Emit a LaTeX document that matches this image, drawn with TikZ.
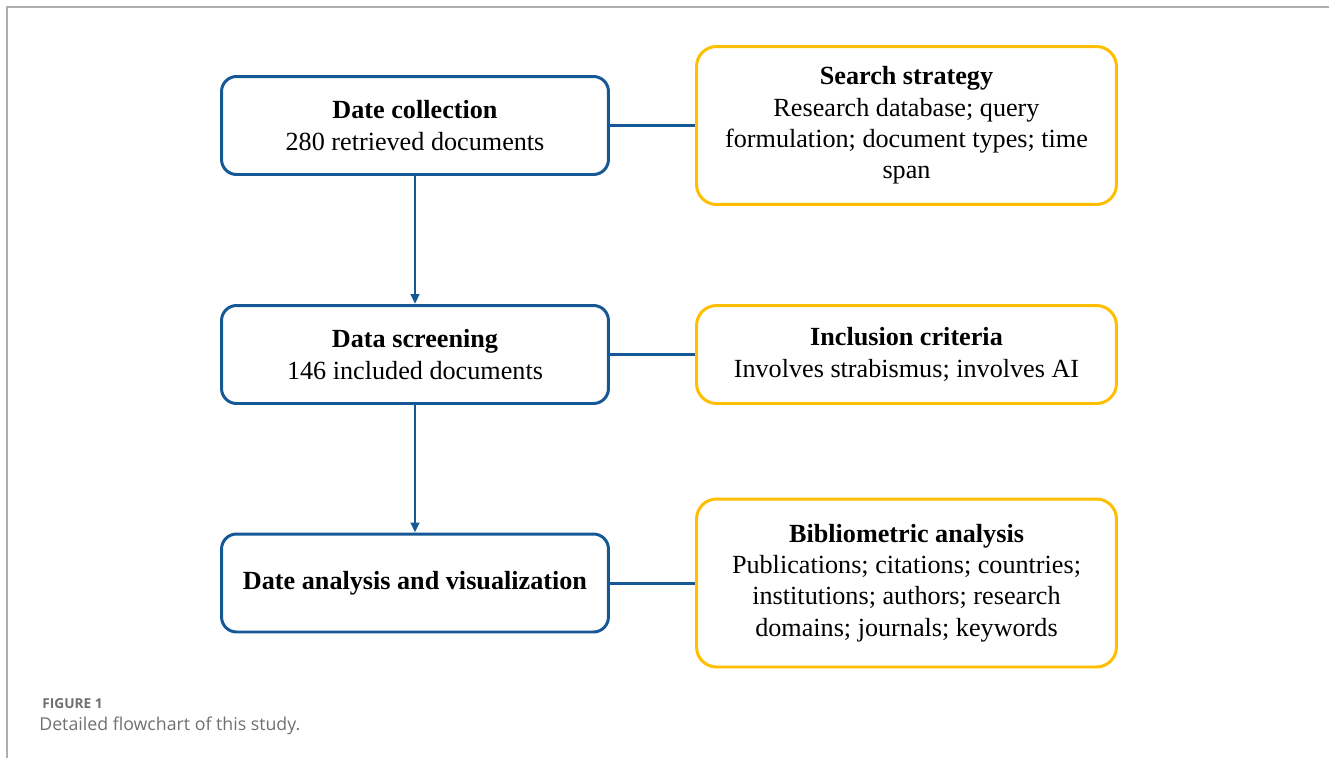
\documentclass[tikz,border=0pt]{standalone}
\usepackage{fontspec}
\setmainfont{Liberation Serif}
\newfontfamily\captionfont{Open Sans}
\usetikzlibrary{arrows.meta}
\definecolor{stepblue}{RGB}{22,88,150}
\definecolor{infoyellow}{RGB}{255,190,0}
\definecolor{framegray}{RGB}{175,175,175}
\definecolor{captiongray}{RGB}{112,112,112}
\newcommand{\boxfont}{\fontsize{14.9pt}{17.9pt}\selectfont}

\begin{document}
\begin{tikzpicture}[x=0.02cm, y=-0.02cm,
    steprect/.style={draw=stepblue, line width=1.7pt, rectangle, rounded corners=0.3cm, minimum width=7.74cm, minimum height=1.96cm, align=center, inner sep=0pt, font=\boxfont},
    inforect/.style={draw=infoyellow, line width=1.7pt, rectangle, rounded corners=0.4cm, minimum width=8.4cm, align=center, inner sep=0pt, font=\boxfont},
    link/.style={draw=stepblue, line width=1.7pt}]
    \useasboundingbox (0,0) rectangle (1329,758);

    % Frame
    \draw[framegray, line width=0.9pt] (7,758) -- (7,7) -- (1329,7);

    % Steps
    \node[steprect] (step-1) at (415,125.5) {\textbf{Date collection}\\280 retrieved documents};
    \node[steprect] (step-2) at (415,354.5) {\textbf{Data screening}\\146 included documents};
    \node[steprect] (step-3) at (415,583) {\textbf{Date analysis and visualization}};

    % Details
    \node[inforect, minimum height=3.16cm] (info-1) at (906.5,125.5) {\textbf{Search strategy}\\Research database; query\\formulation; document types; time\\span};
    \node[inforect, minimum height=1.96cm] (info-2) at (906.5,354.5) {\textbf{Inclusion criteria}\\Involves strabismus; involves AI};
    \node[inforect, minimum height=3.36cm] (info-3) at (906.5,583) {\textbf{Bibliometric analysis}\\Publications; citations; countries;\\institutions; authors; research\\domains; journals; keywords};

    % Connections
    \draw[link, -{Triangle[length=0.2cm, width=0.17cm]}] (step-1) -- (step-2);
    \draw[link, -{Triangle[length=0.2cm, width=0.17cm]}] (step-2) -- (step-3);
    \draw[link] (step-1) -- (info-1);
    \draw[link] (step-2) -- (info-2);
    \draw[link] (step-3) -- (info-3);

    % Caption
    \node[anchor=base west, inner sep=0pt, text=captiongray, font=\captionfont\bfseries\fontsize{7.8pt}{9pt}\selectfont] (fig-label) at (42,708) {FIGURE 1};
    \node[anchor=base west, inner sep=0pt, text=captiongray, font=\captionfont\fontsize{10.1pt}{12pt}\selectfont] (fig-caption) at (39,730) {Detailed flowchart of this study.};
\end{tikzpicture}
\end{document}
